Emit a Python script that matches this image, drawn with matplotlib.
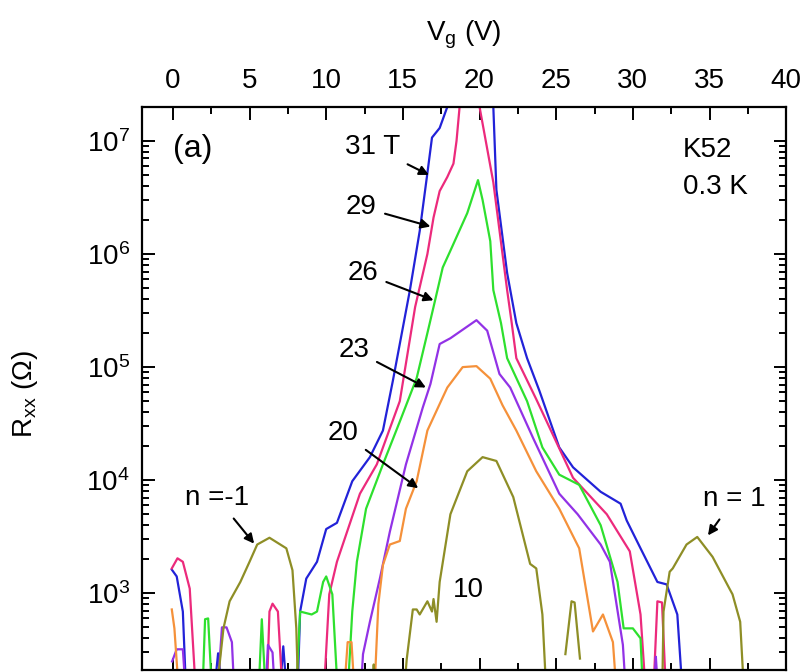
import numpy as np
import matplotlib
matplotlib.use("Agg")
import matplotlib.pyplot as plt
from matplotlib.ticker import MultipleLocator, LogLocator, NullFormatter

plt.rcParams['font.family'] = ['Liberation Sans', 'DejaVu Sans']
plt.rcParams['mathtext.fontset'] = 'custom'
plt.rcParams['mathtext.rm'] = 'Liberation Sans'
plt.rcParams['mathtext.it'] = 'Liberation Sans:italic'

LOW = 100.0  # below the bottom of the axis, curve leaves the frame

# ---- data: (Vg [V], Rxx [Ohm]) segments ----
b31_v = [[-0.07, 0.25, 0.65, 0.9],
         [2.6, 2.95, 3.3],
         [6.9, 7.2, 7.5],
         [8.1, 8.3, 8.7, 9.4, 10.0, 10.7, 11.7, 12.85, 13.7, 14.35, 15.46, 16.1,
          16.6, 16.9, 17.4, 17.9, 18.2, 20.7, 20.9, 21.1, 21.8, 22.4, 23.1, 23.9, 25.2,
          26.1, 27.9, 29.2, 29.6, 30.5, 31.6, 32.2, 32.9, 33.3]]
b31_r = [[1620, 1410, 690, LOW],
         [LOW, 295, LOW],
         [LOW, 340, LOW],
         [LOW, 690, 1350, 1900, 3700, 4200, 9800, 1.6e4, 2.75e4, 7.6e4, 4.8e5, 1.6e6,
          5.2e6, 1.07e7, 1.3e7, 2.0e7, 4e7, 4e7, 2.0e7, 3.7e6, 6.8e5, 2.45e5, 1.2e5, 6.2e4, 1.95e4,
          1.3e4, 7.9e3, 6.2e3, 4.4e3, 2.5e3, 1.26e3, 1.2e3, 650, LOW]]

m29_v = [[-0.07, 0.3, 0.65, 1.1, 1.55],
         [6.1, 6.3, 6.5, 6.85, 7.2],
         [9.8, 10.2, 10.7, 12.2, 13.3, 14.8, 15.8, 16.6, 17.0, 17.4, 17.9, 18.3, 18.5,
          18.7, 18.8, 19.9, 20.0, 20.9, 21.8, 22.1, 22.4, 23.7, 26.1, 28.3, 29.8, 30.5, 30.9],
         [31.3, 31.6, 31.9, 32.2]]
m29_r = [[1660, 2040, 1900, 1100, LOW],
         [LOW, 690, 810, 690, LOW],
         [LOW, 980, 1900, 7600, 1.38e4, 5.0e4, 3.4e5, 1.0e6, 2.1e6, 3.6e6, 4.8e6, 6.3e6, 1.0e7,
          2.0e7, 4e7, 4e7, 2.0e7, 4.3e6, 4.8e5, 2.45e5, 1.2e5, 5.2e4, 1.05e4, 5.0e3, 2.35e3, 650, LOW],
         [LOW, 850, 830, LOW]]

g26_v = [[1.9, 2.1, 2.3, 2.6],
         [5.55, 5.8, 6.1],
         [8.0, 8.3, 9.05, 9.4, 9.8, 10.0, 10.4, 10.8],
         [11.35, 11.7, 12.0, 12.6, 13.7, 14.8, 15.9, 16.6, 17.0, 17.6, 18.1, 19.2, 19.9,
          20.2, 20.7, 20.9, 21.4, 21.8, 23.1, 24.1, 25.2, 26.5, 27.9, 29.0, 29.4, 30.0, 30.5, 30.7]]
g26_r = [[LOW, 590, 600, LOW],
         [LOW, 590, LOW],
         [LOW, 690, 650, 690, 1260, 1410, 980, LOW],
         [LOW, 690, 1900, 5600, 1.38e4, 3.3e4, 8.0e4, 2.0e5, 3.4e5, 7.6e5, 1.07e6, 2.3e6, 4.5e6,
          3.0e6, 1.3e6, 4.8e5, 2.45e5, 1.2e5, 5.0e4, 1.95e4, 1.12e4, 9.1e3, 4.0e3, 1.26e3, 490, 490,
          400, LOW]]

p23_v = [[-0.05, 0.25, 0.65, 0.9],
         [2.85, 3.2, 3.5, 3.85, 4.05],
         [6.0, 6.2, 6.5, 6.7],
         [12.2, 12.4, 12.85, 13.5, 14.15, 15.2, 16.3, 16.8, 17.4, 18.1, 19.8, 20.5, 21.3,
          22.0, 23.5, 25.2, 26.4, 27.9, 28.5, 29.35, 29.6],
         [31.3, 31.5, 31.7]]
p23_r = [[250, 320, 320, LOW],
         [LOW, 500, 500, 370, LOW],
         [LOW, 350, 300, LOW],
         [LOW, 290, 560, 1350, 3500, 1.38e4, 4.4e4, 7.1e4, 1.6e5, 1.8e5, 2.6e5, 2.1e5, 8.7e4,
          6.6e4, 2.35e4, 7.6e3, 5.0e3, 2.7e3, 1.9e3, 350, LOW],
         [LOW, 275, LOW]]

o20_v = [[-0.07, 0.1, 0.45],
         [11.1, 11.4, 11.65, 11.9],
         [13.1, 13.4, 13.7, 14.15, 14.8, 15.2, 15.9, 16.6, 17.6, 17.9, 18.9, 19.8, 20.7,
          21.5, 22.4, 23.7, 25.2, 26.5, 27.4, 28.05, 28.7, 29.0]]
o20_r = [[720, 490, LOW],
         [LOW, 370, 370, LOW],
         [LOW, 800, 1780, 2700, 2900, 5600, 9800, 2.75e4, 5.4e4, 6.6e4, 1.0e5, 1.02e5, 7.9e4,
          4.6e4, 2.75e4, 1.2e4, 5.6e3, 2.5e3, 460, 650, 370, LOW]]

o10_v = [[2.75, 3.3, 3.7, 4.4, 5.0, 5.5, 6.3, 7.4, 7.8, 8.05, 8.2],
         [12.9, 13.1, 13.3],
         [15.0, 15.25, 15.65, 15.9, 16.1, 16.6, 16.9, 17.0, 17.2, 17.4, 18.1, 19.2, 20.2,
          21.1, 22.2, 23.3, 23.7, 24.1, 24.4],
         [25.6, 26.0, 26.2, 26.55],
         [31.9, 32.0, 32.4, 32.6, 33.5, 34.2, 35.2, 36.3, 36.5, 37.0, 37.3]]
o10_r = [[LOW, 490, 850, 1260, 1900, 2700, 3100, 2500, 1600, 490, LOW],
         [LOW, 235, LOW],
         [LOW, 260, 720, 720, 650, 850, 690, 890, 560, 1260, 5000, 1.2e4, 1.6e4,
          1.48e4, 7.1e3, 1.82e3, 1.66e3, 650, LOW],
         [290, 850, 830, 265],
         [LOW, 690, 1550, 1660, 2700, 3150, 2100, 1100, 980, 560, LOW]]

curves = [
    (b31_v, b31_r, '#2222d8'),
    (m29_v, m29_r, '#ec2a7c'),
    (g26_v, g26_r, '#2ee02e'),
    (p23_v, p23_r, '#9232e6'),
    (o20_v, o20_r, '#f5913a'),
    (o10_v, o10_r, '#8e8e26'),
]

# labels: (text, text xy, arrow head xy or None)
labels = [
    ('31 T', (13.0, 8.9e6), (16.7, 5.0e6)),
    ('29', (12.3, 2.6e6), (16.8, 1.75e6)),
    ('26', (12.4, 6.8e5), (17.0, 3.9e5)),
    ('23', (11.8, 1.42e5), (16.5, 6.6e4)),
    ('20', (11.1, 2.6e4), (16.0, 8.5e3)),
    ('n =-1', (2.9, 6.9e3), (5.3, 2.75e3)),
    ('n = 1', (36.6, 6.8e3), (34.9, 3.25e3)),
    ('10', (19.3, 1.07e3), None),
]

fig = plt.figure(figsize=(8.08, 6.72), dpi=100)
ax = fig.add_axes([0.176, 0.003, 0.797, 0.838])

for vs, rs, col in curves:
    for v, r in zip(vs, rs):
        ax.plot(v, r, color=col, lw=1.6, solid_joinstyle='round')

ax.set_yscale('log')
ax.set_xlim(-2, 40)
ax.set_ylim(210, 2.0e7)

ax.xaxis.set_major_locator(MultipleLocator(5))
ax.xaxis.set_minor_locator(MultipleLocator(2.5))
ax.yaxis.set_major_locator(LogLocator(base=10, numticks=12))
ax.yaxis.set_minor_locator(LogLocator(base=10, subs=np.arange(2, 10), numticks=12))
ax.yaxis.set_minor_formatter(NullFormatter())

ax.tick_params(which='both', direction='in', top=True, bottom=True, left=True, right=True,
               labeltop=True, labelbottom=False, width=1.4)
ax.tick_params(which='major', length=9, labelsize=20, pad=9)
ax.tick_params(which='minor', length=5)
for s in ax.spines.values():
    s.set_linewidth(1.6)

ax.xaxis.set_label_position('top')
ax.set_xlabel('V$_\\mathrm{g}$ (V)', fontsize=20, labelpad=20)
ax.set_ylabel('R$_\\mathrm{xx}$ (\u03a9)', fontsize=20)
ax.yaxis.set_label_coords(-0.158, 0.49)

for txt, pos, head in labels:
    if head is None:
        ax.text(pos[0], pos[1], txt, fontsize=20, ha='center', va='center')
    else:
        ax.annotate(txt, xy=head, xytext=pos, fontsize=20, ha='center', va='center',
                    arrowprops=dict(arrowstyle='-|>', color='k', lw=1.5,
                                    mutation_scale=14, shrinkA=4, shrinkB=0))

ax.text(0.048, 0.925, '(a)', transform=ax.transAxes, fontsize=23, ha='left', va='center')
ax.text(0.84, 0.924, 'K52', transform=ax.transAxes, fontsize=20, ha='left', va='center')
ax.text(0.84, 0.857, '0.3 K', transform=ax.transAxes, fontsize=20, ha='left', va='center')

fig.savefig('out.png', dpi=100)
